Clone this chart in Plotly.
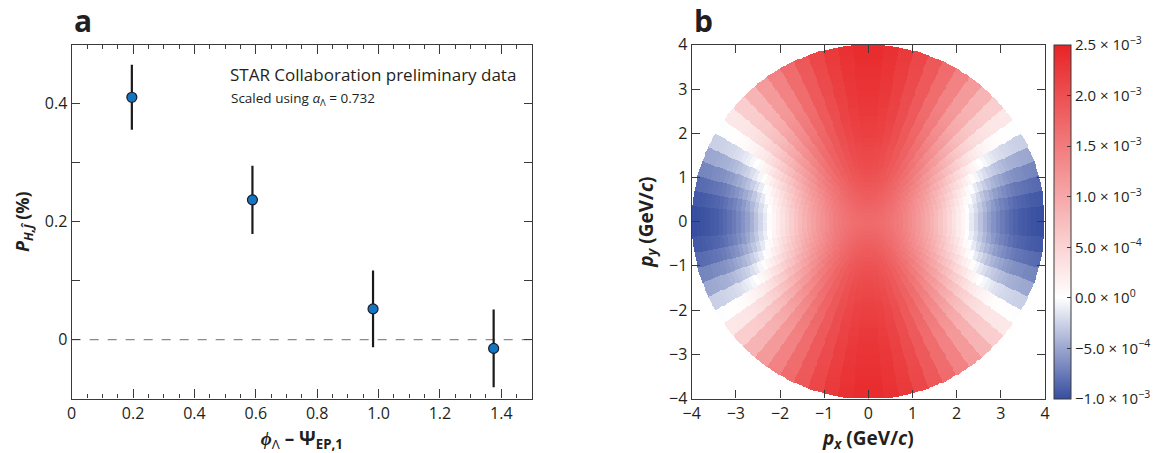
import numpy as np
import plotly.graph_objects as go

# ---------------- Panel a data ----------------
phi_centers = [0.196, 0.589, 0.982, 1.375]
pol_percent = [0.411, 0.237, 0.052, -0.015]
pol_error = [0.055, 0.058, 0.065, 0.066]
xa_tickvals = [0, 0.2, 0.4, 0.6, 0.8, 1.0, 1.2, 1.4]
xa_ticktext = ["0", "0.2", "0.4", "0.6", "0.8", "1.0", "1.2", "1.4"]
ya_tickvals = [0, 0.2, 0.4]
ya_ticktext = ["0", "0.2", "0.4"]

# ---------------- Panel b data (units of 1e-3), rings of 0.1 GeV/c ----------------
r_bin_centers = [0.05, 0.15, 0.25, 0.35, 0.45, 0.55, 0.65, 0.75, 0.85, 0.95,
                 1.05, 1.15, 1.25, 1.35, 1.45, 1.55, 1.65, 1.75, 1.85, 1.95,
                 2.05, 2.15, 2.25, 2.35, 2.45, 2.55, 2.65, 2.75, 2.85, 2.95,
                 3.05, 3.15, 3.25, 3.35, 3.45, 3.55, 3.65, 3.75, 3.85, 3.95]
val_along_px = [1.70, 1.69, 1.68, 1.66, 1.62, 1.58, 1.53, 1.47, 1.40, 1.32,
                1.24, 1.16, 1.07, 0.98, 0.88, 0.78, 0.67, 0.56, 0.44, 0.33,
                0.21, 0.10, -0.02, -0.13, -0.24, -0.35, -0.45, -0.54, -0.62, -0.69,
                -0.75, -0.80, -0.85, -0.89, -0.92, -0.94, -0.96, -0.98, -0.99, -1.00]
val_along_py = [1.70, 1.72, 1.75, 1.78, 1.81, 1.84, 1.87, 1.90, 1.93, 1.96,
                1.99, 2.01, 2.04, 2.06, 2.08, 2.10, 2.12, 2.14, 2.16, 2.18,
                2.20, 2.21, 2.23, 2.24, 2.26, 2.27, 2.29, 2.30, 2.31, 2.32,
                2.33, 2.34, 2.35, 2.36, 2.37, 2.38, 2.39, 2.40, 2.41, 2.42]
cbar_vals = [-1.0, -0.5, 0.0, 0.5, 1.0, 1.5, 2.0, 2.5]
cbar_text = ["\u22121.0 \u00d7 10<sup>\u22123</sup>", "\u22125.0 \u00d7 10<sup>\u22124</sup>",
             "0.0 \u00d7 10<sup>0</sup>", "5.0 \u00d7 10<sup>\u22124</sup>",
             "1.0 \u00d7 10<sup>\u22123</sup>", "1.5 \u00d7 10<sup>\u22123</sup>",
             "2.0 \u00d7 10<sup>\u22123</sup>", "2.5 \u00d7 10<sup>\u22123</sup>"]
xb_tickvals = [-4, -3, -2, -1, 0, 1, 2, 3, 4]
xb_ticktext = ["\u22124", "\u22123", "\u22122", "\u22121", "0", "1", "2", "3", "4"]

# polar binning of the field (5 degree sectors, 0.1 GeV/c rings)
n_ang = 72
dr = 0.1
grid = np.linspace(-4, 4, 401)
gx, gy = np.meshgrid(grid, grid)
rr = np.hypot(gx, gy)
ang = np.arctan2(gy, gx)
ang_bin = np.floor((ang % (2 * np.pi)) / (2 * np.pi / n_ang))
ang_c = (ang_bin + 0.5) * (2 * np.pi / n_ang)
r_idx = np.clip(np.floor(rr / dr).astype(int), 0, len(r_bin_centers) - 1)
p0 = np.array(val_along_px)[r_idx]
p90 = np.array(val_along_py)[r_idx]
z = p0 * np.cos(ang_c) ** 2 + p90 * np.sin(ang_c) ** 2
z = np.round(z, 3).astype(object)
z[rr > 4.0] = None
z = z.tolist()

W, H = 1165, 453
FONT = "Open Sans"
TXT = "#231f20"
AX = "#3a3a3a"

def px(x):
    return x / W

def py(y):
    return 1 - y / H

fig = go.Figure()

fig.add_trace(go.Scatter(
    x=phi_centers, y=pol_percent, mode="markers",
    marker=dict(size=10, color="#1476c0", line=dict(color="#1a1a2a", width=1.2)),
    error_y=dict(type="data", array=pol_error, color="#1a1a1a", thickness=2.2, width=0),
    xaxis="x", yaxis="y", showlegend=False, hoverinfo="skip",
))

blue_white_red = [[0.0, "rgb(55,78,160)"], [1.0 / 3.5, "rgb(255,255,255)"], [1.0, "rgb(232,36,38)"]]
fig.add_trace(go.Heatmap(
    x=grid, y=grid, z=z, xaxis="x2", yaxis="y2",
    colorscale=blue_white_red, zmin=-1.0, zmax=2.5, hoverinfo="skip",
    colorbar=dict(
        x=px(1054), xanchor="left", y=(py(45) + py(399)) / 2, yanchor="middle",
        len=354 / H, lenmode="fraction", thickness=17,
        outlinecolor=AX, outlinewidth=1,
        tickvals=cbar_vals, ticktext=cbar_text, ticks="inside", ticklen=4,
        tickcolor=AX, tickfont=dict(family=FONT, size=15, color=TXT), xpad=0, ypad=0,
    ),
))

dom_y = [py(398.5), py(44.8)]
axis_common = dict(showline=True, linecolor=AX, linewidth=1.3, mirror="ticks",
                   ticks="inside", tickcolor=AX, showgrid=False, zeroline=False,
                   automargin=False,
                   tickfont=dict(family=FONT, size=16, color=TXT))

fig.update_layout(
    width=W, height=H, margin=dict(l=0, r=0, t=0, b=0),
    paper_bgcolor="white", plot_bgcolor="white",
    font=dict(family=FONT, color=TXT),
    xaxis=dict(domain=[px(71.7), px(532)], range=[0, 1.5], tickvals=xa_tickvals,
               ticktext=xa_ticktext, ticklen=9, tickwidth=1.2,
               minor=dict(dtick=0.05, ticklen=4.5, ticks="inside", tickcolor=AX, tickwidth=1.1),
               title=dict(text="<b><i>\u03d5</i></b><sub>\u039b</sub><b> \u2013 \u03a8</b><sub><b>EP,1</b></sub>",
                          font=dict(family=FONT, size=19, color=TXT), standoff=8),
               anchor="y", **axis_common),
    yaxis=dict(domain=dom_y, range=[-0.1, 0.5], tickvals=ya_tickvals, ticktext=ya_ticktext,
               ticklen=8, tickwidth=1.2,
               minor=dict(dtick=0.1, ticklen=8, ticks="inside", tickcolor=AX, tickwidth=1.2),
               title=dict(text="<b><i>P</i></b><sub><b><i>H,\u0134</i></b></sub><b> (%)</b>",
                          font=dict(family=FONT, size=18, color=TXT), standoff=10),
               anchor="x", **axis_common),
    xaxis2=dict(domain=[px(691.7), px(1045)], range=[-4, 4], tickvals=xb_tickvals,
                ticktext=xb_ticktext, ticklen=8, tickwidth=1.2,
                title=dict(text="<b><i>p</i></b><sub><b><i>x</i></b></sub><b> (GeV/<i>c</i>)</b>",
                           font=dict(family=FONT, size=19, color=TXT), standoff=8),
                anchor="y2", **axis_common),
    yaxis2=dict(domain=dom_y, range=[-4, 4], tickvals=xb_tickvals, ticktext=xb_ticktext,
                ticklen=8, tickwidth=1.2,
                title=dict(text="<b><i>p</i></b><sub><b><i>y</i></b></sub><b> (GeV/<i>c</i>)</b>",
                           font=dict(family=FONT, size=19, color=TXT), standoff=10),
                anchor="x2", **axis_common),
)

fig.add_shape(type="line", xref="x", yref="y", x0=0, x1=1.5, y0=0, y1=0,
              line=dict(color="#8a8a8a", width=1.2, dash="dash"), layer="below")

fig.add_annotation(xref="paper", yref="paper", x=px(228), y=py(75), xanchor="left", yanchor="middle",
                   text="STAR Collaboration preliminary data", showarrow=False,
                   font=dict(family=FONT, size=17, color=TXT))
fig.add_annotation(xref="paper", yref="paper", x=px(229), y=py(99), xanchor="left", yanchor="middle",
                   text="Scaled using <i>\u03b1</i><sub>\u039b</sub> = 0.732", showarrow=False,
                   font=dict(family=FONT, size=13.5, color=TXT))
fig.add_annotation(xref="paper", yref="paper", x=px(72), y=py(20), xanchor="left", yanchor="middle",
                   text="<b>a</b>", showarrow=False, font=dict(family=FONT, size=30, color=TXT))
fig.add_annotation(xref="paper", yref="paper", x=px(692), y=py(20), xanchor="left", yanchor="middle",
                   text="<b>b</b>", showarrow=False, font=dict(family=FONT, size=30, color=TXT))

fig.write_html("out.html", config={"displayModeBar": False},
               post_script="document.body.style.margin='0';")
